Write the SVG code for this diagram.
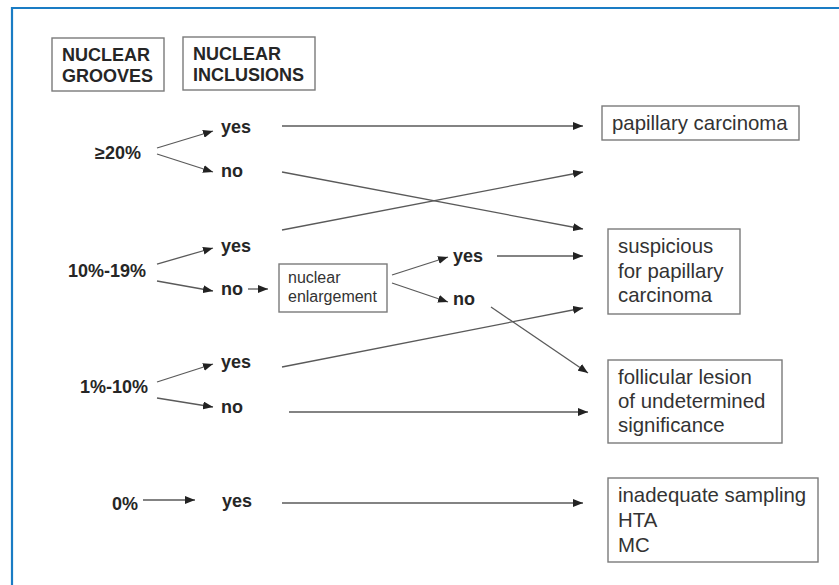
<svg xmlns="http://www.w3.org/2000/svg" width="839" height="585" viewBox="0 0 839 585">
  <style>
    .frame { stroke: #1a7cc4; stroke-width: 2.2; fill: none; }
    .box { fill: #ffffff; stroke: #7a7a7a; stroke-width: 1.4; }
    .hd { font-family: "Liberation Sans", Arial, sans-serif; font-weight: bold; font-size: 18px; fill: #262626; }
    .lbl { font-family: "Liberation Sans", Arial, sans-serif; font-weight: bold; font-size: 18px; fill: #262626; }
    .res { font-family: "Liberation Sans", Arial, sans-serif; font-size: 20.4px; fill: #333333; }
    .small { font-family: "Liberation Sans", Arial, sans-serif; font-size: 16px; fill: #333333; }
    .conn line { stroke: #5a5a5a; stroke-width: 1.3; marker-end: url(#arrow); }
  </style>
  <defs>
    <marker id="arrow" viewBox="0 0 10 8" refX="10" refY="4" markerUnits="userSpaceOnUse" markerWidth="10" markerHeight="8" orient="auto">
      <path d="M0,0 L10,4 L0,8 z" fill="#222222"/>
    </marker>
  </defs>

  <rect width="839" height="585" fill="#ffffff"/>
  <!-- page frame -->
  <path class="frame" d="M12,585 V8 H839"/>

  <!-- column headers -->
  <g id="hdr-grooves">
    <rect class="box" x="52" y="38" width="112" height="53"/>
    <text class="hd" x="62" y="61">NUCLEAR</text>
    <text class="hd" x="62" y="82">GROOVES</text>
  </g>
  <g id="hdr-inclusions">
    <rect class="box" x="183" y="37" width="132" height="53"/>
    <text class="hd" x="193" y="60">NUCLEAR</text>
    <text class="hd" x="193" y="81">INCLUSIONS</text>
  </g>

  <!-- groove percentages -->
  <g id="g20"><text class="lbl" x="95" y="159">≥20%</text></g>
  <g id="g10"><text class="lbl" x="68" y="277">10%-19%</text></g>
  <g id="g1"><text class="lbl" x="80" y="393">1%-10%</text></g>
  <g id="g0"><text class="lbl" x="112" y="510">0%</text></g>

  <!-- inclusion answers -->
  <g id="g20-yes"><text class="lbl" x="221" y="133">yes</text></g>
  <g id="g20-no"><text class="lbl" x="221" y="177">no</text></g>
  <g id="g10-yes"><text class="lbl" x="221" y="252">yes</text></g>
  <g id="g10-no"><text class="lbl" x="221" y="295">no</text></g>
  <g id="g1-yes"><text class="lbl" x="221" y="368">yes</text></g>
  <g id="g1-no"><text class="lbl" x="221" y="413">no</text></g>
  <g id="g0-yes"><text class="lbl" x="222" y="507">yes</text></g>

  <!-- enlargement step -->
  <g id="enlargement">
    <rect class="box" x="279" y="264" width="108" height="48"/>
    <text class="small" x="288" y="283">nuclear</text>
    <text class="small" x="288" y="302">enlargement</text>
  </g>
  <g id="enl-yes"><text class="lbl" x="453" y="262">yes</text></g>
  <g id="enl-no"><text class="lbl" x="453" y="305">no</text></g>

  <!-- outcomes -->
  <g id="papillary">
    <rect class="box" x="602" y="106" width="197" height="34"/>
    <text class="res" x="612" y="130">papillary carcinoma</text>
  </g>
  <g id="suspicious">
    <rect class="box" x="608" y="229" width="132" height="85"/>
    <text class="res" x="618" y="253">suspicious</text>
    <text class="res" x="618" y="278">for papillary</text>
    <text class="res" x="618" y="302">carcinoma</text>
  </g>
  <g id="follicular">
    <rect class="box" x="608" y="360" width="174" height="83"/>
    <text class="res" x="618" y="384">follicular lesion</text>
    <text class="res" x="618" y="408">of undetermined</text>
    <text class="res" x="618" y="432">significance</text>
  </g>
  <g id="inadequate">
    <rect class="box" x="608" y="478" width="210" height="84"/>
    <text class="res" x="618" y="502">inadequate sampling</text>
    <text class="res" x="618" y="527">HTA</text>
    <text class="res" x="618" y="552">MC</text>
  </g>

  <!-- connectors -->
  <g id="connectors" class="conn">
    <line x1="157" y1="148" x2="213" y2="131"/>
    <line x1="157" y1="154" x2="213" y2="172"/>
    <line x1="282" y1="126" x2="583" y2="126"/>
    <line x1="282" y1="172" x2="583" y2="229"/>

    <line x1="157" y1="264" x2="213" y2="248"/>
    <line x1="157" y1="281" x2="213" y2="291"/>
    <line x1="282" y1="230" x2="583" y2="172"/>
    <line x1="248" y1="289" x2="268" y2="289"/>
    <line x1="392" y1="275" x2="448" y2="257"/>
    <line x1="392" y1="283" x2="448" y2="302"/>
    <line x1="497" y1="256" x2="583" y2="256"/>
    <line x1="491" y1="307" x2="588" y2="373"/>

    <line x1="157" y1="382" x2="213" y2="364"/>
    <line x1="157" y1="398" x2="213" y2="407"/>
    <line x1="282" y1="367" x2="583" y2="308"/>
    <line x1="289" y1="412" x2="588" y2="412"/>

    <line x1="143" y1="500" x2="195" y2="500"/>
    <line x1="282" y1="503" x2="583" y2="503"/>
  </g>
</svg>
